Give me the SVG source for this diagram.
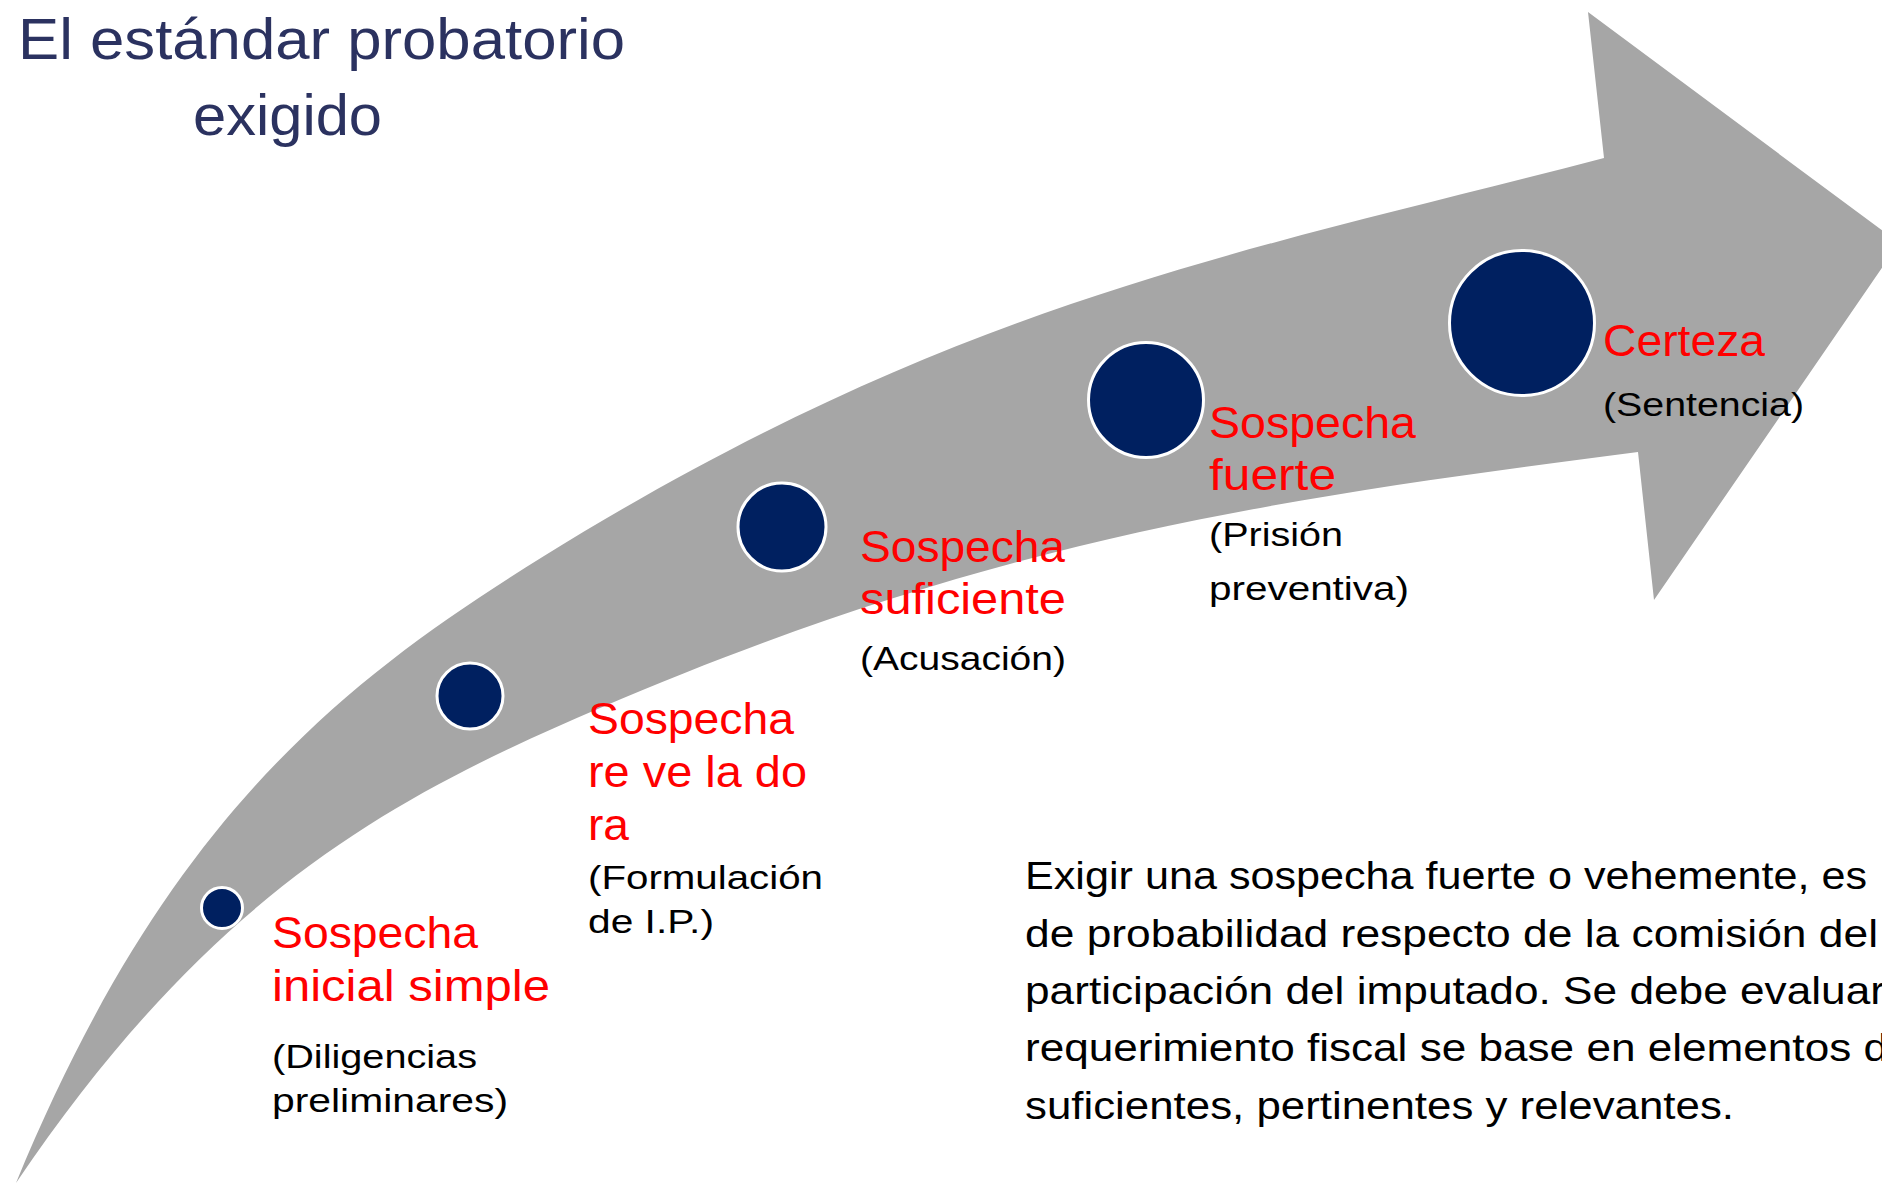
<svg xmlns="http://www.w3.org/2000/svg" width="1882" height="1183" viewBox="0 0 1882 1183">
<style>
.title{font-family:"Liberation Sans",Arial,sans-serif;font-size:58px;fill:#2b3260}
.red{font-family:"Liberation Sans",Arial,sans-serif;font-size:44px;fill:#ff0000}
.blk{font-family:"Liberation Sans",Arial,sans-serif;font-size:34px;fill:#000000}
.para{font-family:"Liberation Sans",Arial,sans-serif;font-size:38px;fill:#000000}
.dot{fill:#002060;stroke:#ffffff;stroke-width:3}
.band{fill:#a6a6a6}
</style>
<rect width="1882" height="1183" fill="#ffffff"/>
<g id="title">
<text class="title" x="18" y="59" textLength="607" lengthAdjust="spacingAndGlyphs">El estándar probatorio</text>
<text class="title" x="193" y="135" textLength="189" lengthAdjust="spacingAndGlyphs">exigido</text>
</g>
<g id="connectors">
<path class="band" d="M16,1183 C166,818 344,680 544,556 C960,298 1254,250 1604,158 L1588,12 L1899,243 L1654,600 L1638,452 C1288,497.5 1000,536 600,708 C400,794 216,887 16,1183 Z"/>
</g>
<g id="node1">
<circle class="dot" cx="222" cy="908" r="20.5"/>
<text class="red" x="272" y="948" textLength="206" lengthAdjust="spacingAndGlyphs">Sospecha</text>
<text class="red" x="272" y="1001" textLength="278" lengthAdjust="spacingAndGlyphs">inicial simple</text>
<text class="blk" x="272" y="1068" textLength="205" lengthAdjust="spacingAndGlyphs">(Diligencias</text>
<text class="blk" x="272" y="1112" textLength="236" lengthAdjust="spacingAndGlyphs">preliminares)</text>
</g>
<g id="node2">
<circle class="dot" cx="470" cy="696" r="33"/>
<text class="red" x="588" y="734" textLength="206" lengthAdjust="spacingAndGlyphs">Sospecha</text>
<text class="red" x="588" y="787" textLength="219" lengthAdjust="spacingAndGlyphs">re ve la do</text>
<text class="red" x="588" y="840" textLength="41" lengthAdjust="spacingAndGlyphs">ra</text>
<text class="blk" x="588" y="889" textLength="235" lengthAdjust="spacingAndGlyphs">(Formulación</text>
<text class="blk" x="588" y="933" textLength="126" lengthAdjust="spacingAndGlyphs">de I.P.)</text>
</g>
<g id="node3">
<circle class="dot" cx="782" cy="527" r="44"/>
<text class="red" x="860" y="562" textLength="205" lengthAdjust="spacingAndGlyphs">Sospecha</text>
<text class="red" x="860" y="614" textLength="206" lengthAdjust="spacingAndGlyphs">suficiente</text>
<text class="blk" x="860" y="670" textLength="206" lengthAdjust="spacingAndGlyphs">(Acusación)</text>
</g>
<g id="node4">
<circle class="dot" cx="1146" cy="400" r="57.5"/>
<text class="red" x="1209" y="438" textLength="207" lengthAdjust="spacingAndGlyphs">Sospecha</text>
<text class="red" x="1209" y="490" textLength="127" lengthAdjust="spacingAndGlyphs">fuerte</text>
<text class="blk" x="1209" y="546" textLength="134" lengthAdjust="spacingAndGlyphs">(Prisión</text>
<text class="blk" x="1209" y="600" textLength="200" lengthAdjust="spacingAndGlyphs">preventiva)</text>
</g>
<g id="node5">
<circle class="dot" cx="1522" cy="323" r="72.5"/>
<text class="red" x="1603" y="356" textLength="162" lengthAdjust="spacingAndGlyphs">Certeza</text>
<text class="blk" x="1603" y="416" textLength="201" lengthAdjust="spacingAndGlyphs">(Sentencia)</text>
</g>
<g id="note">
<text class="para" x="1025" y="889" textLength="842" lengthAdjust="spacingAndGlyphs">Exigir una sospecha fuerte o vehemente, es</text>
<text class="para" x="1025" y="947" textLength="853" lengthAdjust="spacingAndGlyphs">de probabilidad respecto de la comisión del</text>
<text class="para" x="1025" y="1004" textLength="860" lengthAdjust="spacingAndGlyphs">participación del imputado. Se debe evaluar</text>
<text class="para" x="1025" y="1061" textLength="863" lengthAdjust="spacingAndGlyphs">requerimiento fiscal se base en elementos d</text>
<text class="para" x="1025" y="1119" textLength="709" lengthAdjust="spacingAndGlyphs">suficientes, pertinentes y relevantes.</text>
</g>
</svg>
